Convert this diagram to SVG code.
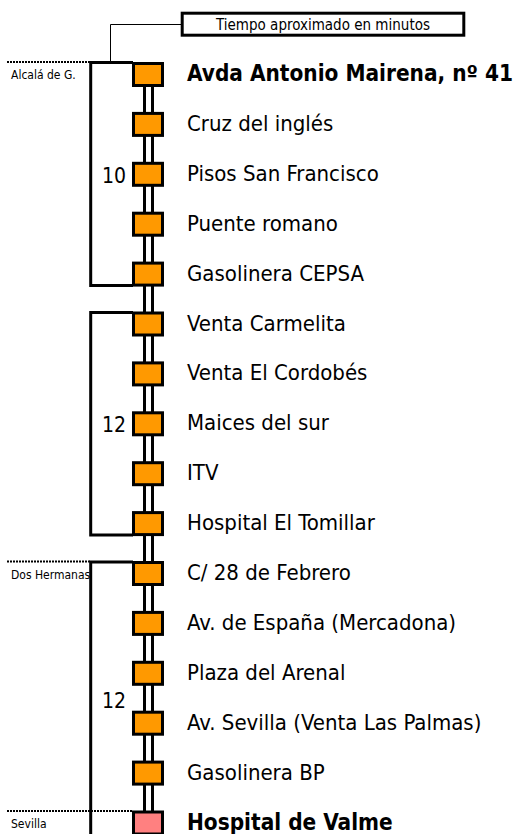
<svg xmlns="http://www.w3.org/2000/svg" width="516" height="834" viewBox="0 0 516 834">
<style>
text{font-family:"DejaVu Sans Condensed","DejaVu Sans",sans-serif;font-stretch:condensed;fill:#000}
.st{font-size:22px}
.b{font-weight:bold;font-size:22.4px}
.sm{font-size:12px}
.num{font-size:21px}
.ttl{font-size:15px}
.box{fill:#FF9900;stroke:#000;stroke-width:3}
.end{fill:#FF8080;stroke:#000;stroke-width:3}
.rail{stroke:#000;stroke-width:3;fill:none}
.br{stroke:#000;stroke-width:3;fill:none}
.dot{stroke:#000;stroke-width:2;stroke-dasharray:2 1;fill:none}
.thin{stroke:#000;stroke-width:1;fill:none}
</style>
<rect width="516" height="834" fill="#fff"/>
<g id="connectors">
<line class="rail" x1="144.5" y1="74" x2="144.5" y2="834"/>
<line class="rail" x1="152.5" y1="74" x2="152.5" y2="834"/>
<path class="br" d="M133 62.5 H90.7 V285.6 H133"/>
<path class="br" d="M133 312.5 H90.7 V535.1 H133"/>
<path class="br" d="M133 562 H90.7 V834"/>
<path class="thin" d="M182 24.5 H110.5 V62"/>
<line class="dot" x1="7" y1="62" x2="90" y2="62"/>
<line class="dot" x1="7" y1="561.5" x2="90" y2="561.5"/>
<line class="dot" x1="7" y1="811" x2="133" y2="811"/>
</g>
<g id="legend">
<rect x="182.2" y="13.2" width="281.6" height="22" fill="#fff" stroke="#000" stroke-width="3"/>
<text class="ttl" x="323" y="30" text-anchor="middle">Tiempo aproximado en minutos</text>
</g>
<g id="zones">
<text class="sm" x="11" y="79">Alcalá de G.</text>
<text class="sm" x="11" y="579">Dos Hermanas</text>
<text class="sm" x="11" y="828">Sevilla</text>
</g>
<g id="times">
<text class="num" x="102" y="183">10</text>
<text class="num" x="102" y="432">12</text>
<text class="num" x="102" y="708">12</text>
</g>
<g id="s0"><rect class="box" x="133.5" y="63.5" width="29" height="22"/><text class="st b" x="187" y="81">Avda Antonio Mairena, nº 41</text></g>
<g id="s1"><rect class="box" x="133.5" y="113.4" width="29" height="22"/><text class="st" x="187" y="130.9">Cruz del inglés</text></g>
<g id="s2"><rect class="box" x="133.5" y="163.3" width="29" height="22"/><text class="st" x="187" y="180.8">Pisos San Francisco</text></g>
<g id="s3"><rect class="box" x="133.5" y="213.2" width="29" height="22"/><text class="st" x="187" y="230.7">Puente romano</text></g>
<g id="s4"><rect class="box" x="133.5" y="263.1" width="29" height="22"/><text class="st" x="187" y="280.6">Gasolinera CEPSA</text></g>
<g id="s5"><rect class="box" x="133.5" y="313" width="29" height="22"/><text class="st" x="187" y="330.5">Venta Carmelita</text></g>
<g id="s6"><rect class="box" x="133.5" y="362.9" width="29" height="22"/><text class="st" x="187" y="380.4">Venta El Cordobés</text></g>
<g id="s7"><rect class="box" x="133.5" y="412.8" width="29" height="22"/><text class="st" x="187" y="430.3">Maices del sur</text></g>
<g id="s8"><rect class="box" x="133.5" y="462.7" width="29" height="22"/><text class="st" x="187" y="480.2">ITV</text></g>
<g id="s9"><rect class="box" x="133.5" y="512.6" width="29" height="22"/><text class="st" x="187" y="530.1">Hospital El Tomillar</text></g>
<g id="s10"><rect class="box" x="133.5" y="562.5" width="29" height="22"/><text class="st" x="187" y="580">C/ 28 de Febrero</text></g>
<g id="s11"><rect class="box" x="133.5" y="612.4" width="29" height="22"/><text class="st" x="187" y="629.9">Av. de España (Mercadona)</text></g>
<g id="s12"><rect class="box" x="133.5" y="662.3" width="29" height="22"/><text class="st" x="187" y="679.8">Plaza del Arenal</text></g>
<g id="s13"><rect class="box" x="133.5" y="712.2" width="29" height="22"/><text class="st" x="187" y="729.7">Av. Sevilla (Venta Las Palmas)</text></g>
<g id="s14"><rect class="box" x="133.5" y="762.1" width="29" height="22"/><text class="st" x="187" y="779.6">Gasolinera BP</text></g>
<g id="s15"><rect class="end" x="133.5" y="812" width="29" height="22"/><text class="st b" x="187" y="829.5">Hospital de Valme</text></g>
</svg>
